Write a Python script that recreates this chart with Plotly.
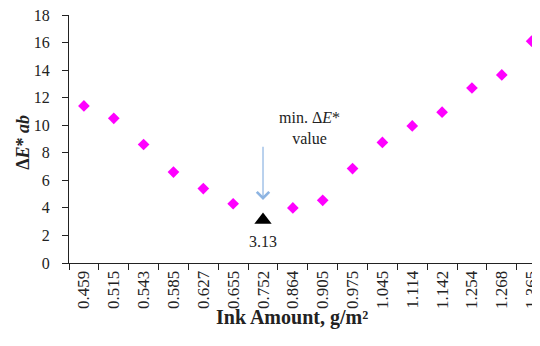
import plotly.graph_objects as go

ink_amount = ["0.459", "0.515", "0.543", "0.585", "0.627", "0.655", "0.752", "0.864",
              "0.905", "0.975", "1.045", "1.114", "1.142", "1.254", "1.268", "1.365"]
delta_e = [11.4, 10.5, 8.6, 6.6, 5.4, 4.3, None, 4.0,
           4.55, 6.85, 8.75, 9.95, 10.95, 12.7, 13.65, 16.1]
min_x = ["0.752"]
min_y = [3.13]
min_label = ["3.13"]

FONT = "Liberation Serif"
min_idx = ink_amount.index(min_x[0])

fig = go.Figure()
fig.add_trace(go.Scatter(
    x=ink_amount, y=delta_e, mode="markers",
    marker=dict(symbol="diamond", size=9, color="#FF00FF"),
    showlegend=False, cliponaxis=False,
))
fig.add_trace(go.Scatter(
    x=min_x, y=min_y, mode="markers",
    marker=dict(symbol="triangle-up", size=15, color="black"),
    showlegend=False, cliponaxis=False,
))
# data label of the minimum
fig.add_annotation(x=min_idx, y=min_y[0], xref="x", yref="y", text=min_label[0],
                   showarrow=False, yshift=-22, xanchor="center", yanchor="middle",
                   font=dict(family=FONT, size=16, color="#222"))

# arrow pointing at the minimum
fig.add_annotation(x=min_idx, y=4.57, xref="x", yref="y", text="", showarrow=True,
                   ax=0, ay=8.55, ayref="y", arrowhead=4, arrowsize=2,
                   arrowwidth=1.2, arrowcolor="#8DB4E2")
fig.add_annotation(x=min_idx + 1.57, y=9.8, xref="x", yref="y",
                   text="min. Δ<i>E</i>*<br>value", showarrow=False,
                   xanchor="center", yanchor="middle",
                   font=dict(family=FONT, size=16, color="#222"))

# axis titles
fig.add_annotation(x=-0.098, y=0.488, xref="paper", yref="paper",
                   xanchor="center", yanchor="middle",
                   text="<b>Δ<i>E</i>* <i>ab</i></b>", textangle=-90, showarrow=False,
                   font=dict(family=FONT, size=18, color="#222"))
fig.add_annotation(x=0.473, y=-0.218, xref="paper", yref="paper",
                   xanchor="center", yanchor="middle",
                   text="<b>Ink Amount, g/m²</b>", showarrow=False,
                   font=dict(family=FONT, size=20, color="#222"))

fig.update_layout(
    width=540, height=330,
    margin=dict(l=61, r=8, t=7, b=75, autoexpand=False),
    paper_bgcolor="white", plot_bgcolor="white",
    font=dict(family=FONT, color="#222"),
    xaxis=dict(type="category", range=[-0.5, 15.28], showgrid=False, automargin=False,
               showline=True, linecolor="#222", linewidth=1,
               ticks="outside", ticklen=6, tickcolor="#222", tickson="boundaries",
               tickangle=-90, tickfont=dict(family=FONT, size=17, color="#222"),
               ticklabeloverflow="allow", zeroline=False),
    yaxis=dict(range=[0, 18], dtick=2, showgrid=False, automargin=False,
               showline=True, linecolor="#222", linewidth=1,
               ticks="outside", ticklen=6, tickcolor="#222",
               tickfont=dict(family=FONT, size=16, color="#222"),
               ticklabeloverflow="allow", ticklabelstandoff=9, zeroline=False),
)

fig.write_html("out.html")
